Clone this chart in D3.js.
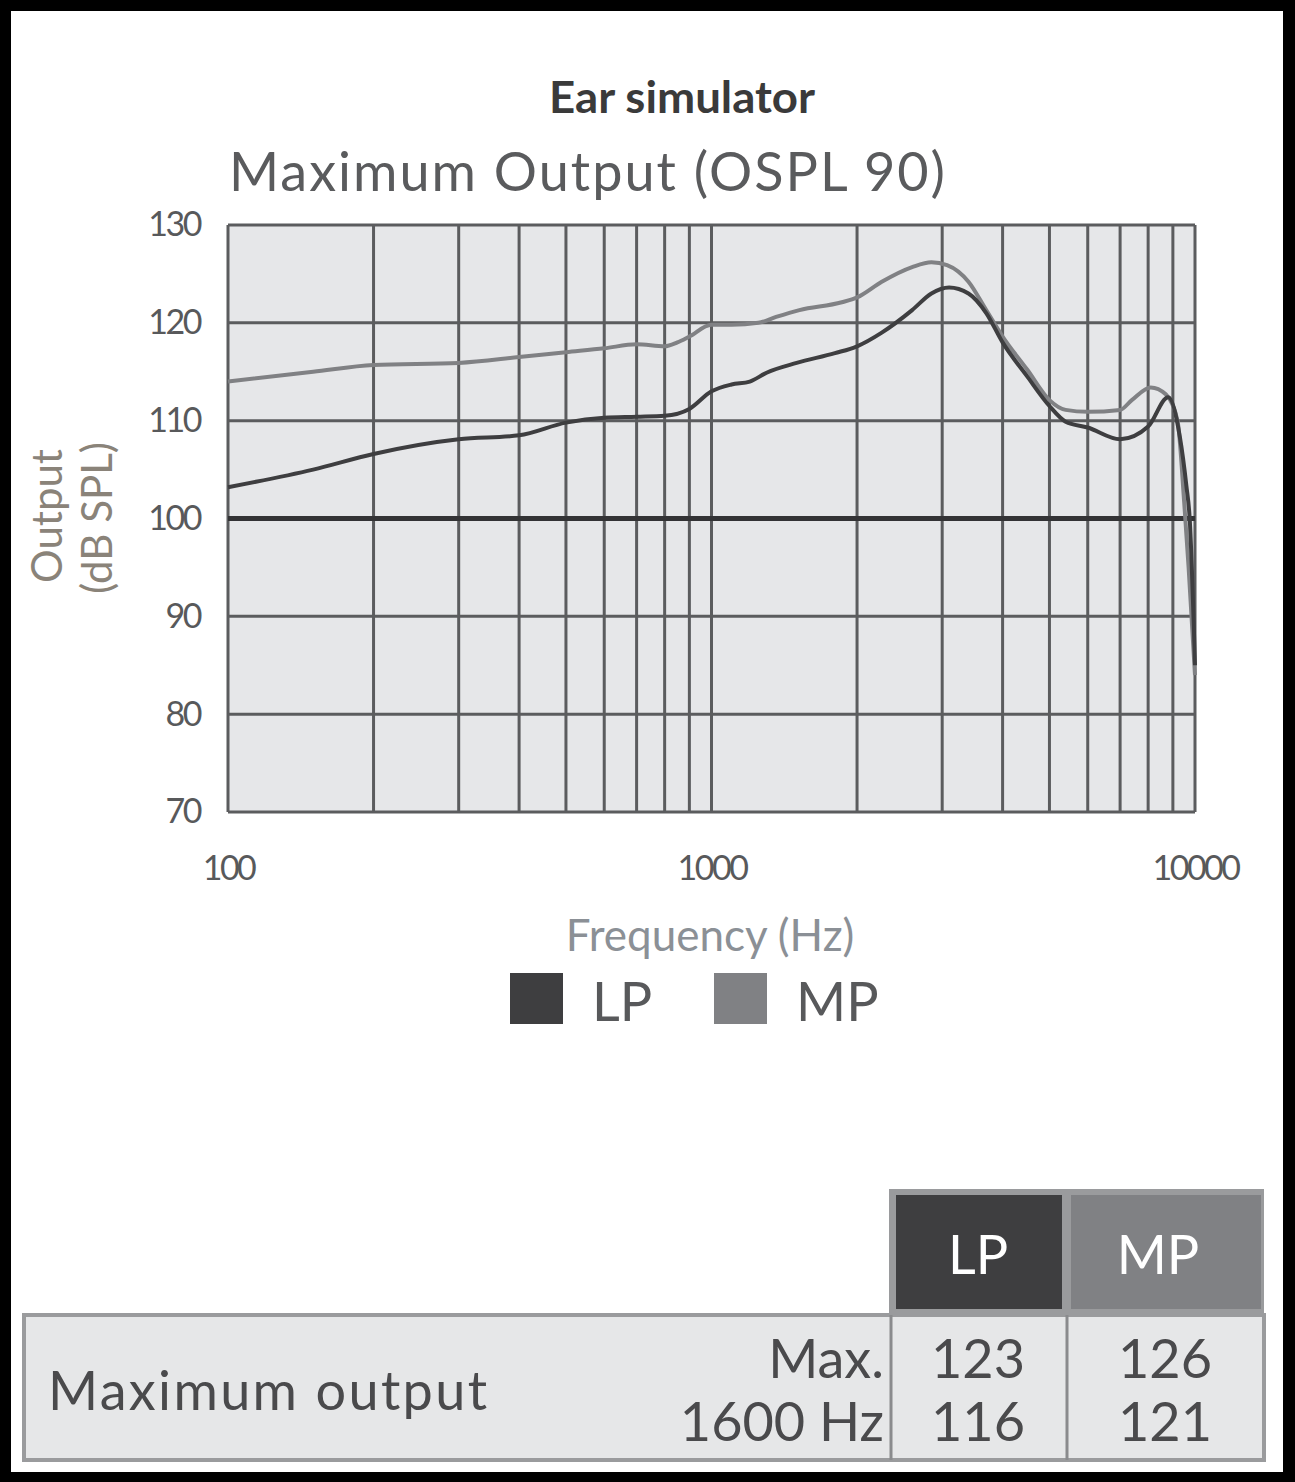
<!DOCTYPE html>
<html>
<head>
<meta charset="utf-8">
<script src="https://cdn.jsdelivr.net/npm/d3@7"></script>
<style>
  html, body { margin: 0; padding: 0; background: #000; }
  svg { display: block; }
  text { font-family: Lato, "Open Sans", sans-serif; }
</style>
</head>
<body>
<svg id="chart" width="1295" height="1482"></svg>
<script>
// ---------- data ----------
const seriesNames = ["LP", "MP"];
const lpFreq = [100, 150, 200, 300, 400, 500, 600, 700, 800, 900, 1000, 1100, 1200, 1300, 1500, 1800, 2000, 2250, 2600, 2850, 3100, 3400, 3700, 4000, 4500, 5000, 5400, 6000, 7000, 8000, 8800, 9300, 9600, 9750, 10000];
const lpOut  = [103.2, 105.0, 106.6, 108.1, 108.5, 109.8, 110.3, 110.4, 110.5, 111.2, 113.0, 113.7, 114.0, 114.9, 115.9, 116.9, 117.6, 119.0, 121.3, 123.0, 123.6, 123.0, 121.0, 118.0, 114.5, 111.5, 109.9, 109.3, 108.1, 109.4, 112.4, 108.4, 103.3, 100.0, 85.0];
const mpFreq = [100, 150, 200, 300, 400, 500, 600, 700, 800, 850, 900, 1000, 1100, 1250, 1360, 1520, 1860, 2000, 2250, 2600, 2850, 3070, 3400, 3700, 4000, 4500, 5000, 5400, 6000, 7000, 7400, 8100, 8700, 9200, 9500, 9700, 10000];
const mpOut  = [114.0, 115.0, 115.7, 115.9, 116.5, 117.0, 117.4, 117.8, 117.6, 118.0, 118.6, 119.8, 119.8, 120.0, 120.6, 121.3, 122.1, 122.6, 124.2, 125.7, 126.2, 125.9, 124.2, 121.3, 118.6, 115.2, 112.1, 111.1, 110.9, 111.1, 112.1, 113.4, 112.7, 110.0, 101.6, 95.0, 84.0];
const yTicks = [70, 80, 90, 100, 110, 120, 130];
const xLabelTicks = [100, 1000, 10000];
const xGridTicks = [100, 200, 300, 400, 500, 600, 700, 800, 900, 1000, 2000, 3000, 4000, 5000, 6000, 7000, 8000, 9000, 10000];
const tableRowLabels = ["Max.", "1600 Hz"];
const lpTable = [123, 116];
const mpTable = [126, 121];

// ---------- drawing ----------
const svg = d3.select("#chart");
const W = 1295, H = 1482;
svg.append("rect").attr("width", W).attr("height", H).attr("fill", "#000");
svg.append("rect").attr("x", 11).attr("y", 11).attr("width", 1272).attr("height", 1461).attr("fill", "#fff");

const colors = { LP: "#3e3e40", MP: "#808184" };

const x = d3.scaleLog().domain([100, 10000]).range([228, 1195]);
const y = d3.scaleLinear().domain([70, 130]).range([812, 225]);

// titles
svg.append("text").attr("x", 682).attr("y", 113).attr("text-anchor", "middle")
  .attr("font-size", 43).attr("font-weight", "bold").attr("fill", "#3a3a3a")
  .attr("textLength", 266).attr("lengthAdjust", "spacingAndGlyphs").text("Ear simulator");
svg.append("text").attr("x", 229).attr("y", 191)
  .attr("font-size", 54).attr("fill", "#5a5b5d")
  .attr("textLength", 716).attr("lengthAdjust", "spacing").text("Maximum Output (OSPL 90)");

// plot background
svg.append("rect").attr("x", x(100)).attr("y", y(130))
  .attr("width", x(10000) - x(100)).attr("height", y(70) - y(130)).attr("fill", "#e6e7e9");

const grid = svg.append("g");
grid.selectAll("line.v").data(xGridTicks).join("line")
  .attr("x1", d => x(d)).attr("x2", d => x(d)).attr("y1", y(130)).attr("y2", y(70))
  .attr("stroke", "#5b5c5e").attr("stroke-width", 3);
grid.selectAll("line.h").data(yTicks).join("line")
  .attr("x1", x(100)).attr("x2", x(10000)).attr("y1", d => y(d)).attr("y2", d => y(d))
  .attr("stroke", d => d === 100 ? "#333335" : "#5b5c5e")
  .attr("stroke-width", d => d === 100 ? 5 : 3);

// curves
const line = d3.line().x(d => x(d[0])).y(d => y(d[1])).curve(d3.curveMonotoneX);
const series = [
  { name: "MP", pts: d3.zip(mpFreq, mpOut) },
  { name: "LP", pts: d3.zip(lpFreq, lpOut) }
];
svg.selectAll("path.curve").data(series).join("path")
  .attr("fill", "none").attr("stroke", d => colors[d.name]).attr("stroke-width", 4)
  .attr("stroke-linejoin", "round").attr("d", d => line(d.pts));

// axes labels via d3 axes
const yAxis = svg.append("g").attr("transform", `translate(${x(100)},0)`)
  .call(d3.axisLeft(y).tickValues(yTicks).tickSize(0).tickPadding(28));
yAxis.select(".domain").remove();
yAxis.selectAll("text").attr("font-size", 34).attr("fill", "#58595b")
  .attr("font-family", "Lato, sans-serif").attr("letter-spacing", -2.5);

const xAxis = svg.append("g").attr("transform", `translate(0,${y(70)})`)
  .call(d3.axisBottom(x).tickValues(xLabelTicks).tickFormat(d3.format("d")).tickSize(0).tickPadding(44));
xAxis.select(".domain").remove();
xAxis.selectAll("text").attr("font-size", 34).attr("fill", "#58595b")
  .attr("font-family", "Lato, sans-serif").attr("letter-spacing", -2.5);

// axis titles
svg.append("text").attr("transform", "translate(62,516) rotate(-90)").attr("text-anchor", "middle")
  .attr("font-size", 42).attr("fill", "#8a8379").text("Output");
svg.append("text").attr("transform", "translate(112,518) rotate(-90)").attr("text-anchor", "middle")
  .attr("font-size", 42).attr("fill", "#8a8379").text("(dB SPL)");
svg.append("text").attr("x", 710).attr("y", 951).attr("text-anchor", "middle")
  .attr("font-size", 44).attr("fill", "#8b9096").text("Frequency (Hz)");

// legend
const legendX = { LP: 510, MP: 714 };
const lg = svg.selectAll("g.leg").data(seriesNames).join("g")
  .attr("transform", d => `translate(${legendX[d]},973)`);
lg.append("rect").attr("width", 53).attr("height", 51).attr("fill", d => colors[d]);
lg.append("text").attr("x", 82).attr("y", 48).attr("font-size", 54).attr("fill", "#58595b").text(d => d);

// table
const colX = { LP: 893, MP: 1068 };
svg.append("rect").attr("x", 889).attr("y", 1189).attr("width", 375).attr("height", 124)
  .attr("fill", "#9a9b9d");
svg.selectAll("rect.hdr").data(seriesNames).join("rect")
  .attr("x", d => colX[d] + 3).attr("y", 1195).attr("width", d => d === "LP" ? 166 : 190).attr("height", 114)
  .attr("fill", d => colors[d]);
svg.selectAll("text.hdr").data(seriesNames).join("text")
  .attr("x", d => d === "LP" ? 978 : 1158).attr("y", 1274).attr("text-anchor", "middle")
  .attr("font-size", 54).attr("fill", "#fff").text(d => d);

svg.append("rect").attr("x", 24).attr("y", 1315).attr("width", 1240).attr("height", 145)
  .attr("fill", "#e6e7e8").attr("stroke", "#9a9b9d").attr("stroke-width", 4);
[891, 1067].forEach(xx => svg.append("line").attr("x1", xx).attr("x2", xx)
  .attr("y1", 1315).attr("y2", 1460).attr("stroke", "#8a8b8d").attr("stroke-width", 3));

svg.append("text").attr("x", 48).attr("y", 1410).attr("font-size", 54).attr("fill", "#4a4a4c")
  .attr("textLength", 439).attr("lengthAdjust", "spacing").text("Maximum output");
const rowY = [1378, 1441];
svg.selectAll("text.rl").data(tableRowLabels).join("text")
  .attr("x", 884).attr("y", (d, i) => rowY[i]).attr("text-anchor", "end")
  .attr("font-size", 54).attr("fill", "#4a4a4c").text(d => d);
svg.selectAll("text.lp").data(lpTable).join("text")
  .attr("x", 978).attr("y", (d, i) => rowY[i]).attr("text-anchor", "middle")
  .attr("font-size", 54).attr("fill", "#4a4a4c").text(d => d);
svg.selectAll("text.mp").data(mpTable).join("text")
  .attr("x", 1165).attr("y", (d, i) => rowY[i]).attr("text-anchor", "middle")
  .attr("font-size", 54).attr("fill", "#4a4a4c").text(d => d);
</script>
</body>
</html>
